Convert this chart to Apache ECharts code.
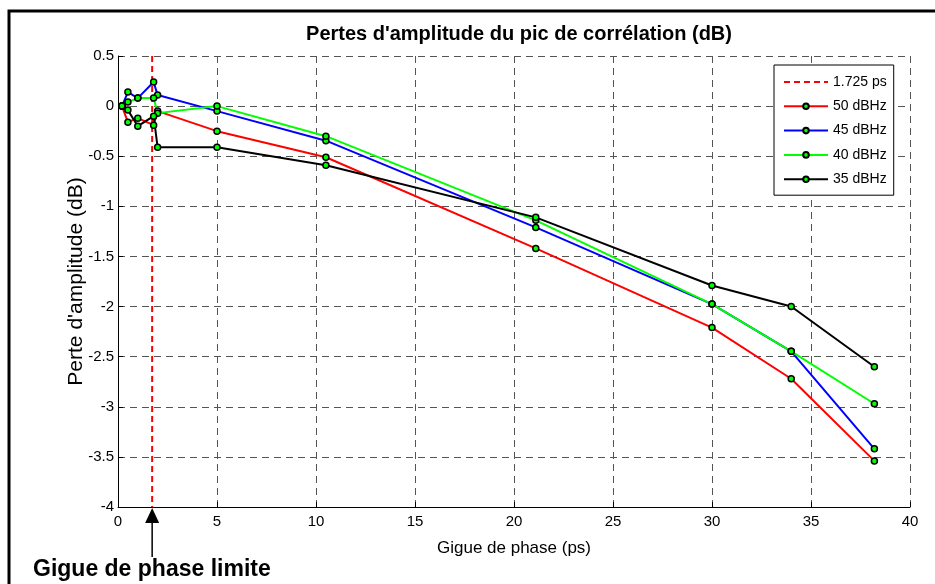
<!DOCTYPE html>
<html>
<head>
<meta charset="utf-8">
<script src="https://cdn.jsdelivr.net/npm/echarts@6/dist/echarts.min.js"></script>
<style>
  html, body { margin: 0; padding: 0; background: #fff; }
  #chart { width: 935px; height: 584px; }
</style>
</head>
<body>
<div id="chart"></div>
<script>
    // abscisses : gigue de phase (ps)
    var gigue = [0.2, 0.5, 1, 1.8, 2, 5, 10.5, 21.1, 30, 34, 38.2];

    // pertes d'amplitude (dB) par C/N0
    var pertes50 = [0, -0.16, -0.12, -0.19, -0.05, -0.25, -0.51, -1.42, -2.21, -2.72, -3.54];
    var pertes45 = [0, 0.14, 0.08, 0.24, 0.11, -0.05, -0.345, -1.21, -1.975, -2.447, -3.42];
    var pertes40 = [0, 0.04, 0.08, 0.08, -0.07, 0.0, -0.30, -1.14, -1.975, -2.447, -2.97];
    var pertes35 = [0, -0.04, -0.2, -0.1, -0.41, -0.41, -0.59, -1.11, -1.79, -2.0, -2.60];

    var gigueLimite = 1.725;
    var yMin = -4, yMax = 0.5;

    var font = '"Liberation Sans", Arial, sans-serif';

    function toPairs(ys) {
        var out = [];
        for (var i = 0; i < gigue.length; i++) {
            out.push([gigue[i], ys[i]]);
        }
        return out;
    }

    function courbe(name, color, ys) {
        return {
            name: name,
            type: 'line',
            data: toPairs(ys),
            symbol: 'circle',
            symbolSize: 6,
            showSymbol: true,
            animation: false,
            lineStyle: { color: color, width: 2 },
            itemStyle: { color: '#00ff00', borderColor: '#000', borderWidth: 1.5 }
        };
    }

    var chart = echarts.init(document.getElementById('chart'));

    var option = {
        backgroundColor: '#fff',
        animation: false,
        title: {
            text: "Pertes d'amplitude du pic de corrélation (dB)",
            left: 514,
            textAlign: 'center',
            top: 19,
            textStyle: { fontFamily: font, fontSize: 20, fontWeight: 'bold', color: '#000' }
        },
        grid: { left: 118, right: 25, top: 56, bottom: 77 },
        legend: {
            orient: 'vertical',
            left: 774,
            top: 65,
            padding: [10, 7, 9, 9],
            itemWidth: 44,
            itemHeight: 7,
            itemGap: 10.3,
            backgroundColor: '#fff',
            borderColor: '#000',
            borderWidth: 1,
            borderRadius: 0,
            textStyle: { fontFamily: font, fontSize: 14, color: '#000' },
            data: [
                { name: '1.725 ps', itemStyle: { color: 'rgba(0,0,0,0)', borderWidth: 0 } },
                '50 dBHz', '45 dBHz', '40 dBHz', '35 dBHz'
            ]
        },
        xAxis: {
            type: 'value',
            min: 0,
            max: 40,
            interval: 5,
            name: 'Gigue de phase (ps)',
            nameLocation: 'middle',
            nameGap: 33,
            nameTextStyle: { fontFamily: font, fontSize: 17, color: '#000' },
            axisLine: { onZero: false, lineStyle: { color: '#000', width: 1 } },
            axisTick: { inside: true, length: 5, lineStyle: { color: '#000' } },
            axisLabel: { fontFamily: font, fontSize: 15, color: '#000', margin: 7 },
            splitLine: { show: true, lineStyle: { color: '#555', type: [7, 5], width: 1 } }
        },
        yAxis: {
            type: 'value',
            min: yMin,
            max: yMax,
            interval: 0.5,
            name: "Perte d'amplitude (dB)",
            nameLocation: 'middle',
            nameGap: 31,
            nameMoveOverlap: false,
            nameTextStyle: { fontFamily: font, fontSize: 21, color: '#000' },
            axisLine: { show: true, onZero: false, lineStyle: { color: '#000', width: 1 } },
            axisTick: { show: true, inside: true, length: 5, lineStyle: { color: '#000' } },
            axisLabel: { fontFamily: font, fontSize: 15, color: '#000', margin: 4 },
            splitLine: { show: true, lineStyle: { color: '#555', type: [7, 5], width: 1 } }
        },
        series: [
            {
                name: '1.725 ps',
                type: 'line',
                data: [[gigueLimite, yMax], [gigueLimite, yMin]],
                symbol: 'none',
                animation: false,
                lineStyle: { color: '#ff0000', width: 2, type: [6, 4] },
                itemStyle: { color: '#ff0000' }
            },
            courbe('50 dBHz', '#ff0000', pertes50),
            courbe('45 dBHz', '#0000ff', pertes45),
            courbe('40 dBHz', '#00ff00', pertes40),
            courbe('35 dBHz', '#000000', pertes35)
        ]
    };

    chart.setOption(option);

    // annotation : flèche vers la gigue limite + cadre de la figure
    var ax = chart.convertToPixel({ xAxisIndex: 0 }, gigueLimite);
    var yAxe = chart.convertToPixel({ yAxisIndex: 0 }, yMin);
    chart.setOption({
        graphic: [
            {
                type: 'rect',
                shape: { x: 9, y: 11, width: 1000, height: 1000 },
                style: { fill: 'none', stroke: '#000', lineWidth: 3 },
                silent: true
            },
            {
                type: 'line',
                shape: { x1: ax, y1: yAxe + 14, x2: ax, y2: yAxe + 50 },
                style: { stroke: '#000', lineWidth: 1.5 }
            },
            {
                type: 'polygon',
                shape: { points: [[ax, yAxe + 1], [ax - 7, yAxe + 16], [ax + 7, yAxe + 16]] },
                style: { fill: '#000' }
            },
            {
                type: 'text',
                left: 33,
                top: 558,
                style: {
                    text: 'Gigue de phase limite',
                    fontFamily: font,
                    fontSize: 23,
                    fontWeight: 'bold',
                    fill: '#000'
                }
            }
        ]
    });
</script>
</body>
</html>
